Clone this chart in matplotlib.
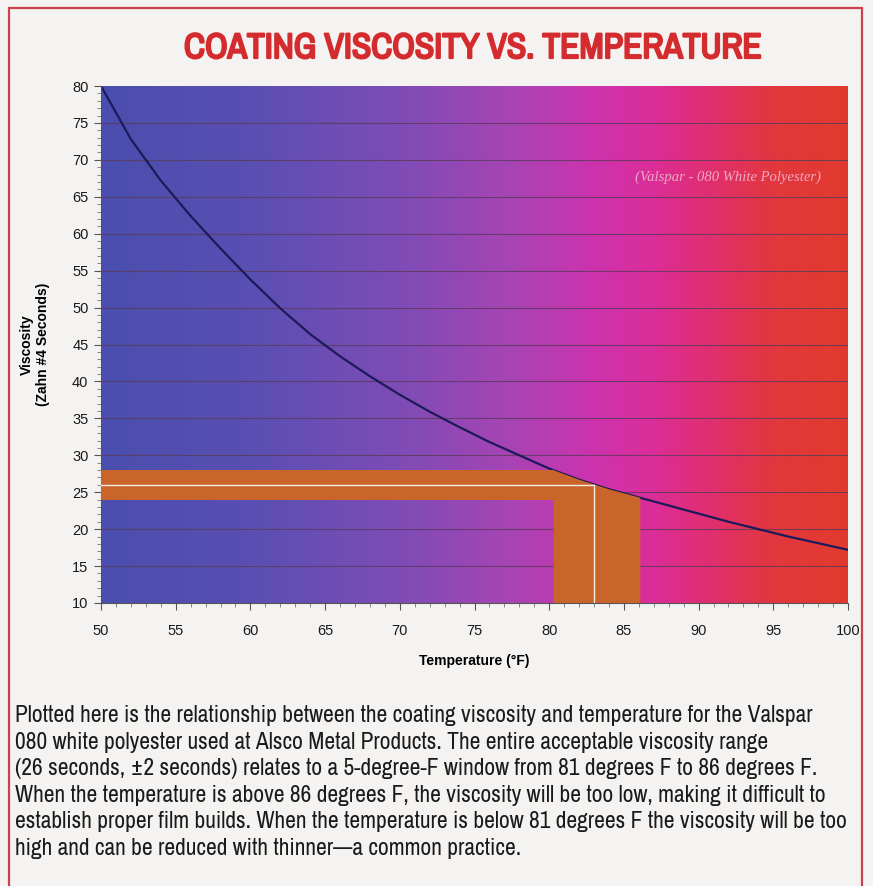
import matplotlib
matplotlib.use("Agg")
import matplotlib.pyplot as plt
import numpy as np
from matplotlib import font_manager
import matplotlib.patheffects as pe
from matplotlib.colors import LinearSegmentedColormap
from matplotlib.patches import Rectangle, Polygon
from matplotlib.ticker import MultipleLocator

# ---- data ----
temperature = [50, 52, 54, 56, 58, 60, 62, 64, 66, 68, 70, 72, 74, 76, 78, 80,
               82, 84, 86, 88, 90, 92, 94, 96, 98, 100]
viscosity = [80, 72.8, 67.2, 62.4, 58.0, 53.8, 49.9, 46.4, 43.4, 40.7, 38.2, 35.9, 33.8, 31.8, 30.0, 28.2,
             26.7, 25.4, 24.3, 23.2, 22.1, 21.0, 20.0, 19.0, 18.1, 17.2]

target_viscosity = 26
tolerance = 2
window_low = 80.3
window_high = 86.1
target_temp = 83

x_ticks = [50, 55, 60, 65, 70, 75, 80, 85, 90, 95, 100]
y_ticks = [10, 15, 20, 25, 30, 35, 40, 45, 50, 55, 60, 65, 70, 75, 80]

title = "COATING VISCOSITY VS. TEMPERATURE"
xlabel = "Temperature (°F)"
ylabel = "Viscosity\n(Zahn #4 Seconds)"
note = "(Valspar - 080 White Polyester)"
caption = ("Plotted here is the relationship between the coating viscosity and temperature for the Valspar\n"
           "080 white polyester used at Alsco Metal Products. The entire acceptable viscosity range\n"
           "(26 seconds, \u00b12 seconds) relates to a 5-degree-F window from 81 degrees F to 86 degrees F.\n"
           "When the temperature is above 86 degrees F, the viscosity will be too low, making it difficult to\n"
           "establish proper film builds. When the temperature is below 81 degrees F the viscosity will be too\n"
           "high and can be reduced with thinner\u2014a common practice.")

# look for an installed condensed sans family (for title and caption)
condensed = None
for f in font_manager.fontManager.ttflist:
    if "Condensed" in f.name or "Narrow" in f.name:
        condensed = f
        break
has_bold = False
if condensed is not None:
    for f in font_manager.fontManager.ttflist:
        if f.name == condensed.name and (f.weight in ("bold", 700, 800, 900) or str(f.weight) in ("700", "800", "900")):
            has_bold = True

W, H = 873, 886
fig = plt.figure(figsize=(W / 100, H / 100), dpi=100)
fig.patch.set_facecolor("#f5f3f1")

# red frame
frame = Rectangle((9 / W, -0.01), (862 - 9) / W, (H - 8) / H + 0.01, transform=fig.transFigure,
                  fill=False, edgecolor="#c9424c", linewidth=1.6)
fig.add_artist(frame)

title_color = "#d42b2e"
if condensed is not None:
    title_kw = dict(family=condensed.name, fontstretch=condensed.stretch, fontsize=25.5)
    cap_kw = dict(family=condensed.name, fontstretch=condensed.stretch, fontsize=16.9, linespacing=1.33)
else:
    title_kw = dict(family="Liberation Sans", fontsize=21)
    cap_kw = dict(family="Liberation Sans", fontsize=14.2, linespacing=1.52)

t = fig.text(473 / W, 1 - 48 / H, title, ha="center", va="center", color=title_color,
             fontweight="bold", **title_kw)
if condensed is not None and not has_bold:
    t.set_path_effects([pe.withStroke(linewidth=1.6, foreground=title_color)])

ax = fig.add_axes([101 / W, 1 - 603 / H, (848 - 101) / W, (603 - 86) / H])
ax.set_xlim(50, 100)
ax.set_ylim(10, 80)

cmap = LinearSegmentedColormap.from_list("heat", [
    (0.00, "#4a4eae"),
    (0.20, "#5a4fb2"),
    (0.40, "#7e4cb6"),
    (0.55, "#a844b4"),
    (0.66, "#cc33ae"),
    (0.74, "#db2d98"),
    (0.82, "#e02f6e"),
    (0.90, "#e2373e"),
    (1.00, "#e33a2e"),
])
grad = np.linspace(0, 1, 512).reshape(1, -1)
ax.imshow(grad, cmap=cmap, aspect="auto", extent=[50, 100, 10, 80], zorder=0, interpolation="bicubic")

for yv in y_ticks[1:-1]:
    ax.axhline(yv, color="#5a3a5a", linewidth=0.8, alpha=0.8, zorder=1)

ax.plot(temperature, viscosity, color="#1c1a5a", linewidth=1.6, zorder=2)

orange = "#c9642b"
ax.add_patch(Rectangle((50, target_viscosity - tolerance), window_low - 50, 2 * tolerance,
                       facecolor=orange, edgecolor="none", zorder=3))
t_arr = np.array(temperature, dtype=float)
v_arr = np.array(viscosity, dtype=float)
inside = (t_arr > window_low) & (t_arr < window_high)
top_x = [window_low] + list(t_arr[inside]) + [window_high]
top_y = list(np.interp(top_x, t_arr, v_arr))
poly = [(window_low, 10)] + list(zip(top_x, top_y)) + [(window_high, 10)]
ax.add_patch(Polygon(poly, closed=True, facecolor=orange, edgecolor="none", zorder=3))

ax.plot([50, target_temp], [target_viscosity, target_viscosity], color="#f4eee6", linewidth=1.0, zorder=4)
ax.plot([target_temp, target_temp], [10, target_viscosity], color="#f4eee6", linewidth=1.0, zorder=4)

ax.text(92.0, 67.7, note, ha="center", va="center", color="#eea8c4", fontsize=10.5,
        style="italic", family="Liberation Serif", zorder=5)

for s in ["top", "right"]:
    ax.spines[s].set_visible(False)
for s in ["left", "bottom"]:
    ax.spines[s].set_color("#555555")
    ax.spines[s].set_linewidth(0.8)

ax.set_xticks(x_ticks)
ax.set_yticks(y_ticks)
ax.xaxis.set_minor_locator(MultipleLocator(1))
ax.yaxis.set_minor_locator(MultipleLocator(1))
ax.tick_params(which="major", direction="out", length=5, width=0.8, color="#555555",
               labelsize=10.5, labelcolor="#1a1a1a")
ax.tick_params(axis="x", which="major", pad=10)
ax.tick_params(axis="y", which="major", pad=4)
ax.tick_params(which="minor", direction="out", length=3, width=0.6, color="#777777")
for lab in ax.get_xticklabels() + ax.get_yticklabels():
    lab.set_family("Liberation Sans")

ax.set_xlabel(xlabel, fontsize=10, fontweight="bold", family="Liberation Sans", labelpad=12)
ax.set_ylabel(ylabel, fontsize=10, fontweight="bold", family="Liberation Sans", labelpad=16)

fig.text(15 / W, 1 - 705 / H, caption, ha="left", va="top", color="#1a1a1a", **cap_kw)

fig.savefig("out.png", dpi=100, facecolor=fig.get_facecolor())
